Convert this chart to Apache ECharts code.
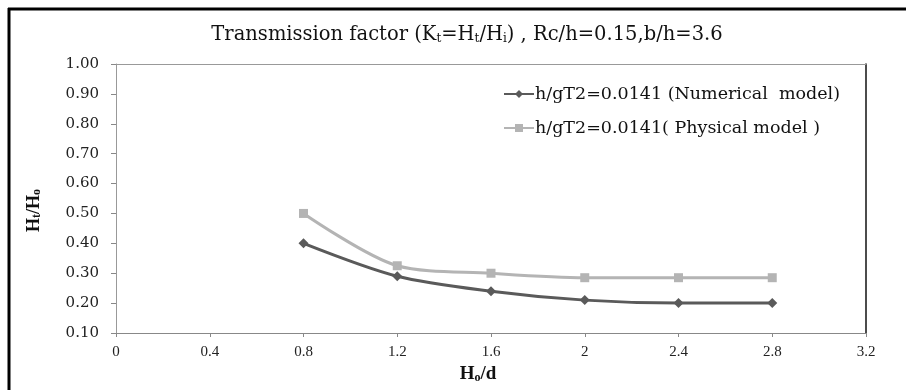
<!DOCTYPE html>
<html><head><meta charset="utf-8">
<script src="https://cdn.jsdelivr.net/npm/echarts@6/dist/echarts.min.js"></script>
<style>html,body{margin:0;padding:0;background:#fff}#c{width:906px;height:390px}</style>
</head><body><div id="c"></div>
<script>
const xValues = [0.8, 1.2, 1.6, 2.0, 2.4, 2.8];
const numerical = [0.40, 0.29, 0.24, 0.21, 0.20, 0.20];
const physical = [0.50, 0.325, 0.30, 0.285, 0.285, 0.285];
const seriesNames = ['h/gT2=0.0141 (Numerical  model)', 'h/gT2=0.0141( Physical model )'];

const serif = '"Liberation Serif", "Times New Roman", serif';
const wide = '"DejaVu Serif", serif';
const chart = echarts.init(document.getElementById('c'));
chart.setOption({
  animation: false,
  title: {
    text: '{n|Transmission factor (K}{s|t}{n|=H}{s|t}{n|/H}{s|i}{n|) , Rc/h=0.15,b/h=3.6}',
    left: 462, top: 20, textAlign: 'center',
    textStyle: { fontWeight: 'normal', rich: {
      n: { fontFamily: wide, fontSize: 19.5, fontWeight: 'normal', color: '#111' },
      s: { fontFamily: wide, fontSize: 12, fontWeight: 'normal', color: '#111', verticalAlign: 'bottom', padding: [6, 0, 0, 0] }
    } }
  },
  legend: {
    orient: 'vertical', left: 498, top: 80, itemGap: 16, itemWidth: 30, itemHeight: 10,
    textStyle: { fontFamily: wide, fontSize: 17.5, color: '#111', padding: [0, 0, 0, -4] },
    data: seriesNames
  },
  grid: { left: 116, right: 40, top: 64, bottom: 57 },
  xAxis: [{
    type: 'value', min: 0, max: 3.2, interval: 0.4,
    axisLine: { lineStyle: { color: '#888' } },
    axisTick: { show: true, length: 4, lineStyle: { color: '#888' } },
    splitLine: { show: false },
    axisLabel: { fontFamily: serif, fontSize: 15, color: '#222', margin: 12,
      formatter: v => String(Math.round(v * 10) / 10) },
    name: '{b|H}{s|o}{b|/d}', nameLocation: 'middle', nameGap: 32,
    nameTextStyle: { padding: [0, 26, 0, 0], rich: {
      b: { fontFamily: serif, fontSize: 19, fontWeight: 'bold', color: '#111' },
      s: { fontFamily: serif, fontSize: 12, fontWeight: 'bold', color: '#111', verticalAlign: 'bottom', padding: [6, 0, 0, 0] }
    } }
  }, {
    type: 'value', position: 'top', min: 0, max: 3.2,
    axisLine: { show: true, onZero: false, lineStyle: { color: '#999' } },
    axisTick: { show: false }, axisLabel: { show: false }, splitLine: { show: false }
  }],
  yAxis: [{
    type: 'value', min: 0.1, max: 1.0, interval: 0.1,
    axisLine: { show: true, onZero: false, lineStyle: { color: '#999' } },
    axisTick: { show: true, length: 5, lineStyle: { color: '#888' } },
    splitLine: { show: false },
    axisLabel: { fontFamily: wide, fontSize: 15, color: '#222', margin: 17,
      formatter: v => v.toFixed(2) },
    name: '{b|H}{s|t}{b|/H}{s|o}', nameLocation: 'middle', nameGap: 73, nameRotate: 90,
    nameTextStyle: { padding: [0, 24, 0, 0], rich: {
      b: { fontFamily: serif, fontSize: 18, fontWeight: 'bold', color: '#111' },
      s: { fontFamily: serif, fontSize: 12, fontWeight: 'bold', color: '#111', verticalAlign: 'bottom', padding: [6, 0, 0, 0] }
    } }
  }, {
    type: 'value', position: 'right', min: 0.1, max: 1.0,
    axisLine: { show: true, onZero: false, lineStyle: { color: '#111', width: 1.5 } },
    axisTick: { show: false }, axisLabel: { show: false }, splitLine: { show: false }
  }],
  series: [{
    name: seriesNames[0], type: 'line', smooth: 0.3,
    data: xValues.map((x, i) => [x, numerical[i]]),
    symbol: 'diamond', symbolSize: 10,
    lineStyle: { color: '#5a5a5a', width: 3 },
    itemStyle: { color: '#5a5a5a' }
  }, {
    name: seriesNames[1], type: 'line', smooth: 0.3,
    data: xValues.map((x, i) => [x, physical[i]]),
    symbol: 'rect', symbolSize: 9,
    lineStyle: { color: '#b4b4b4', width: 3 },
    itemStyle: { color: '#b4b4b4' }
  }],
  graphic: [
    { type: 'line', shape: { x1: 8, y1: 9, x2: 906, y2: 9 }, style: { stroke: '#000', lineWidth: 3 } },
    { type: 'line', shape: { x1: 9, y1: 8, x2: 9, y2: 390 }, style: { stroke: '#000', lineWidth: 3 } }
  ]
});
</script></body></html>
